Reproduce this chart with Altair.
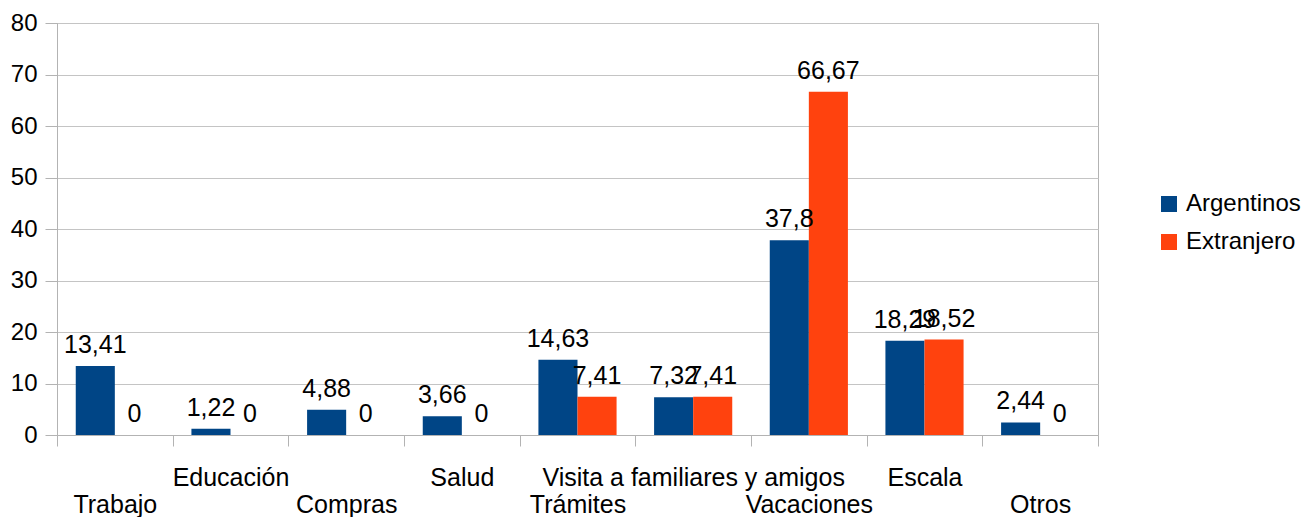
import altair as alt
import pandas as pd

categories = ["Trabajo", "Educación", "Compras", "Salud", "Trámites",
              "Visita a familiares y amigos", "Vacaciones", "Escala", "Otros"]
argentinos = [13.41, 1.22, 4.88, 3.66, 14.63, 7.32, 37.8, 18.29, 2.44]
extranjero = [0, 0, 0, 0, 7.41, 7.41, 66.67, 18.52, 0]
series = ["Argentinos", "Extranjero"]
colors = ["#004586", "#ff420e"]

rows = []
for c, a, e in zip(categories, argentinos, extranjero):
    rows.append({"cat": c, "serie": series[0], "value": a})
    rows.append({"cat": c, "serie": series[1], "value": e})
df = pd.DataFrame(rows)

font = "Liberation Sans"
fs = 25
lower = ["Trabajo", "Compras", "Trámites", "Vacaciones", "Otros"]
test_lower = "indexof(" + str(lower) + ", datum.value) >= 0"

xenc = alt.X("cat:N", sort=categories, title=None,
             scale=alt.Scale(paddingInner=0, paddingOuter=0),
             axis=alt.Axis(labelAngle=0, tickBand="extent", tickSize=11,
                           labelPadding={"condition": {"test": test_lower, "value": 46}, "value": 19},
                           labelFontSize=fs, labelFont=font, labelColor="black", labelLimit=600,
                           domainColor="#b3b3b3", tickColor="#b3b3b3", grid=False,
                           labelOverlap=False, labelBound=False, labelFlush=False))

base = alt.Chart(df).encode(
    x=xenc,
    xOffset=alt.XOffset("serie:N", sort=series,
                        scale=alt.Scale(paddingInner=0, paddingOuter=0.48)),
)

bars = base.mark_bar().encode(
    y=alt.Y("value:Q", title=None,
            scale=alt.Scale(domain=[0, 80], nice=False),
            axis=alt.Axis(values=list(range(0, 81, 10)), tickSize=12, labelPadding=8,
                          labelFontSize=24, labelFont=font, labelColor="black",
                          domainColor="#b3b3b3", tickColor="#b3b3b3", gridColor="#c4c4c4")),
    color=alt.Color("serie:N", sort=series,
                    scale=alt.Scale(domain=series, range=colors),
                    legend=alt.Legend(title=None, orient="none", legendX=1100, legendY=169,
                                      symbolType="square", symbolSize=256, symbolStrokeWidth=0,
                                      labelFontSize=24, labelFont=font, labelColor="black",
                                      rowPadding=14, labelOffset=5)),
)

texts = base.mark_text(baseline="alphabetic", dy=-13, fontSize=fs, font=font, color="black").transform_calculate(
    lbl="replace(toString(datum.value), '.', ',')"
).encode(
    y=alt.Y("value:Q"),
    text="lbl:N",
)

chart = alt.layer(bars, texts).properties(
    width=1041, height=412,
    autosize=alt.AutoSizeParams(type="none"),
    padding={"left": 49, "top": 15, "right": 206, "bottom": 82},
).configure_view(stroke="#b3b3b3", strokeWidth=1)

chart.save("out.html", embed_options={"renderer": "svg", "actions": False})
